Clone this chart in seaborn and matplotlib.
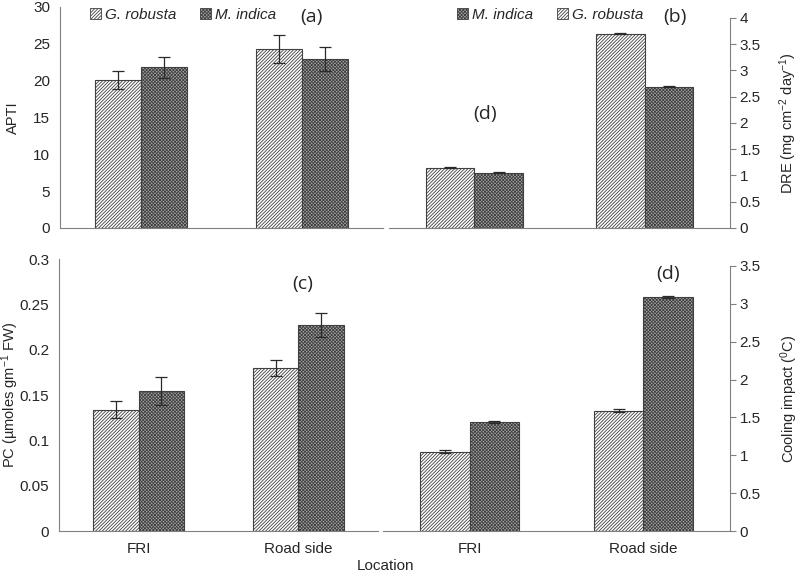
import numpy as np
import pandas as pd
import matplotlib
matplotlib.use('Agg')
import matplotlib.pyplot as plt
import seaborn as sns
from matplotlib.patches import Patch
from matplotlib.ticker import FuncFormatter

# data
locations = ['FRI', 'Road side']
species = ['G. robusta', 'M. indica']

apti_g = [20.1, 24.3]
apti_m = [21.8, 22.9]
apti_g_err = [1.25, 1.85]
apti_m_err = [1.45, 1.65]

dre_g = [1.15, 3.70]
dre_m = [1.05, 2.69]
dre_g_err = [0.015, 0.012]
dre_m_err = [0.012, 0.01]

pc_g = [0.134, 0.180]
pc_m = [0.154, 0.227]
pc_g_err = [0.009, 0.009]
pc_m_err = [0.0155, 0.0135]

cool_g = [1.05, 1.59]
cool_m = [1.44, 3.09]
cool_g_err = [0.015, 0.015]
cool_m_err = [0.015, 0.015]

sns.set_style('white')
plt.rcParams['font.family'] = ['Liberation Sans', 'DejaVu Sans']
plt.rcParams['mathtext.fontset'] = 'custom'
plt.rcParams['mathtext.rm'] = 'Liberation Sans'
plt.rcParams['mathtext.it'] = 'Liberation Sans:italic'
plt.rcParams['hatch.linewidth'] = 0.6

spine_col = '#808080'
edge_col = '#404040'
face_cols = ['white', '#a6a6a6']
hatches = ['/' * 10, 'x' * 10]


def draw_panel(ax, g, m, g_err, m_err, ymax, step, side, ylabel, label_x, show_x):
    df = pd.DataFrame({
        'Location': locations * 2,
        'Species': [species[0]] * 2 + [species[1]] * 2,
        'value': g + m,
    })
    sns.barplot(data=df, x='Location', y='value', hue='Species', order=locations,
                hue_order=species, palette=face_cols, width=0.57, errorbar=None,
                saturation=1, edgecolor=edge_col, linewidth=0.8, legend=False, ax=ax)
    bars = ax.patches[:4]
    for i, p in enumerate(bars):
        p.set_hatch(hatches[i // 2])
    xs = [p.get_x() + p.get_width() / 2 for p in bars]
    ax.errorbar(xs, g + m, yerr=g_err + m_err, fmt='none', ecolor='#2a2a2a',
                elinewidth=0.9, capsize=4, capthick=0.9)

    ax.set_xlim(-0.5, 1.5)
    ax.set_xticks([-0.5, 0.5, 1.5])
    ax.set_xticklabels([])
    ax.set_xticks([0, 1], minor=True)
    if show_x:
        ax.set_xticklabels(locations, minor=True, fontsize=11)
    else:
        ax.set_xticklabels(['', ''], minor=True)
    ax.tick_params(axis='x', which='minor', length=0, pad=8)
    ax.tick_params(axis='x', which='major', length=4, direction='out', color=spine_col, width=0.8)
    ax.set_xlabel('')

    ax.set_ylim(0, ymax)
    ax.set_yticks(np.arange(0, ymax + step / 2, step))
    ax.yaxis.set_major_formatter(FuncFormatter(lambda v, p: f'{v:g}'))
    ax.tick_params(axis='y', length=4, direction='out', color=spine_col, width=0.8,
                   labelsize=11, pad=3)

    for s in ['top', 'left', 'right']:
        ax.spines[s].set_visible(False)
    ax.spines['bottom'].set_color(spine_col)
    ax.spines['bottom'].set_linewidth(0.8)
    if side == 'right':
        ax.yaxis.tick_right()
        ax.yaxis.set_label_position('right')
        ax.spines['right'].set_visible(True)
        ax.spines['right'].set_color(spine_col)
        ax.spines['right'].set_linewidth(0.8)
    else:
        ax.spines['left'].set_visible(True)
        ax.spines['left'].set_color(spine_col)
        ax.spines['left'].set_linewidth(0.8)
    ax.set_ylabel(ylabel, fontsize=10.5)
    ax.yaxis.set_label_coords(label_x, 0.5)


fig = plt.figure(figsize=(8, 5.77), dpi=100)
ax_a = fig.add_axes([0.075, 0.6049, 0.4038, 0.383])
ax_b = fig.add_axes([0.48625, 0.6049, 0.42625, 0.364])
ax_c = fig.add_axes([0.07375, 0.0797, 0.39875, 0.4714])
ax_d = fig.add_axes([0.47875, 0.0797, 0.43375, 0.4593])

# label positions: inner edge of the rotated label, in pixels
draw_panel(ax_a, apti_g, apti_m, apti_g_err, apti_m_err, 30, 5, 'left', 'APTI',
           (20 - 60) / 323, False)
draw_panel(ax_b, dre_g, dre_m, dre_g_err, dre_m_err, 4, 0.5, 'right',
           'DRE (mg cm$^{-2}$ day$^{-1}$)', (777 - 389) / 341, False)
draw_panel(ax_c, pc_g, pc_m, pc_g_err, pc_m_err, 0.3, 0.05, 'left',
           'PC (\u00b5moles gm$^{-1}$ FW)', (21 - 59) / 319, True)
draw_panel(ax_d, cool_g, cool_m, cool_g_err, cool_m_err, 3.5, 0.5, 'right',
           'Cooling impact ($^{0}$C)', (778 - 383) / 347, True)

# legends
handles = {sp: Patch(facecolor=face_cols[i], edgecolor=edge_col, hatch=hatches[i], linewidth=0.6)
           for i, sp in enumerate(species)}
leg_kw = dict(frameon=False, ncol=2, handlelength=0.7, handleheight=0.7, handletextpad=0.25,
              columnspacing=1.6, prop={'style': 'italic', 'size': 11}, borderaxespad=0)
fig.legend([handles['G. robusta'], handles['M. indica']], ['G. robusta', 'M. indica'],
           loc='center left', bbox_to_anchor=(84 / 800, 1 - 15 / 577), **leg_kw)
fig.legend([handles['M. indica'], handles['G. robusta']], ['M. indica', 'G. robusta'],
           loc='center left', bbox_to_anchor=(451 / 800, 1 - 15 / 577), **leg_kw)

# panel letters
lab_kw = dict(fontsize=14, family=['Open Sans', 'DejaVu Sans'], ha='center', va='center')
fig.text(311 / 800, 1 - 17 / 577, '(a)', **lab_kw)
fig.text(675 / 800, 1 - 17 / 577, '(b)', **lab_kw)
fig.text(485 / 800, 1 - 114 / 577, '(d)', **lab_kw)
fig.text(303 / 800, 1 - 284 / 577, '(c)', **lab_kw)
fig.text(668 / 800, 1 - 274 / 577, '(d)', **lab_kw)

fig.text(385 / 800, 1 - 566 / 577, 'Location', fontsize=11, ha='center', va='center')

fig.savefig('out.png', dpi=100)
